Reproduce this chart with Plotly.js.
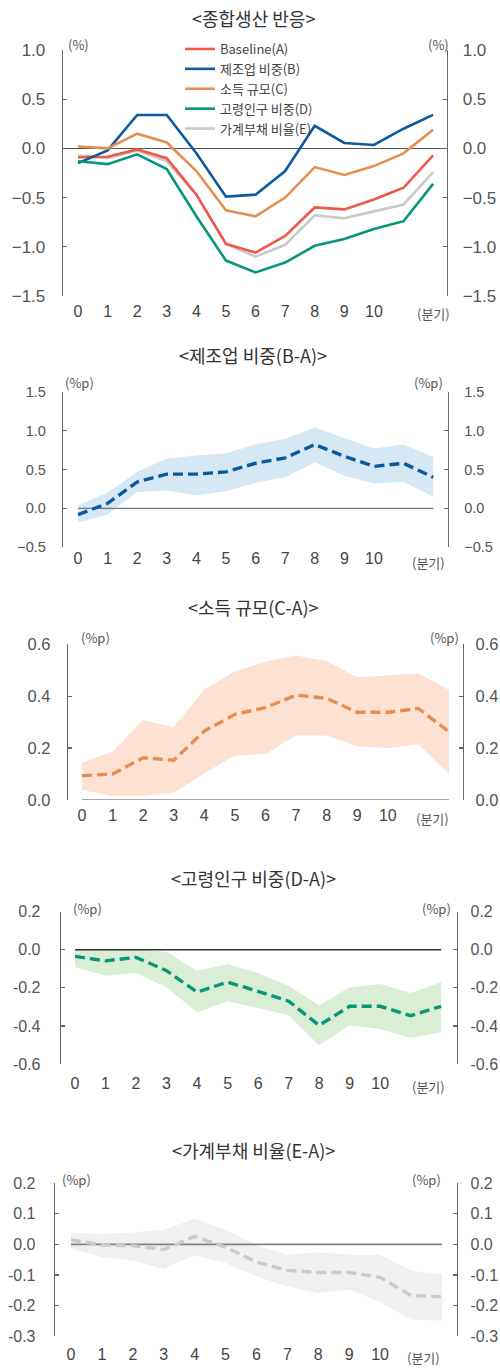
<!DOCTYPE html>
<html>
<head>
<meta charset="utf-8">
<script src="https://cdn.plot.ly/plotly-3.0.1.min.js"></script>
<style>html,body{margin:0;padding:0;background:#fff;}#chart{width:500px;height:1368px;}</style>
</head>
<body>
<div id="chart"></div>
<script>
// ---------- data ----------
const quarters = [0,1,2,3,4,5,6,7,8,9,10,11,12];
const xTickVals = [0,1,2,3,4,5,6,7,8,9,10];
const xTickText = ['0','1','2','3','4','5','6','7','8','9','10'];

// Panel 1: 종합생산 반응
const seriesNames = ['Baseline(A)','제조업 비중(B)','소득 규모(C)','고령인구 비중(D)','가계부채 비율(E)'];
const baselineA = [-0.09,-0.085,-0.01,-0.10,-0.47,-0.97,-1.06,-0.89,-0.60,-0.62,-0.52,-0.40,-0.07];
const manufB   = [-0.15,-0.02,0.34,0.34,-0.05,-0.49,-0.47,-0.23,0.23,0.055,0.035,0.20,0.34];
const incomeC  = [0.02,0.0,0.15,0.06,-0.23,-0.63,-0.69,-0.50,-0.19,-0.27,-0.18,-0.05,0.19];
const elderD   = [-0.13,-0.16,-0.06,-0.21,-0.69,-1.14,-1.26,-1.16,-0.99,-0.92,-0.82,-0.74,-0.36];
const debtE    = [-0.07,-0.10,-0.02,-0.13,-0.47,-0.97,-1.10,-0.98,-0.68,-0.71,-0.64,-0.57,-0.24];

// Panel 2: 제조업 비중(B-A)
const bMid   = [-0.08,0.065,0.34,0.44,0.44,0.47,0.58,0.65,0.82,0.67,0.54,0.58,0.40];
const bUpper = [0.04,0.20,0.47,0.64,0.68,0.71,0.82,0.90,1.04,0.90,0.77,0.82,0.66];
const bLower = [-0.18,-0.08,0.21,0.23,0.17,0.22,0.33,0.40,0.59,0.42,0.32,0.34,0.15];

// Panel 3: 소득 규모(C-A)
const cMid   = [0.094,0.10,0.163,0.153,0.266,0.33,0.356,0.404,0.392,0.338,0.338,0.353,0.263];
const cUpper = [0.144,0.186,0.308,0.28,0.427,0.495,0.533,0.557,0.536,0.473,0.48,0.488,0.424];
const cLower = [0.039,0.015,0.015,0.028,0.103,0.171,0.177,0.249,0.249,0.206,0.20,0.215,0.10];

// Panel 4: 고령인구 비중(D-A)
const dMid   = [-0.035,-0.058,-0.04,-0.11,-0.222,-0.17,-0.218,-0.27,-0.397,-0.297,-0.297,-0.346,-0.297];
const dUpper = [0.0,0.0,0.0,-0.01,-0.11,-0.075,-0.122,-0.189,-0.293,-0.197,-0.18,-0.227,-0.171];
const dLower = [-0.091,-0.136,-0.122,-0.197,-0.328,-0.27,-0.306,-0.344,-0.501,-0.397,-0.416,-0.463,-0.433];

// Panel 5: 가계부채 비율(E-A)
const eMid   = [0.015,-0.002,-0.004,-0.017,0.026,-0.009,-0.058,-0.085,-0.092,-0.092,-0.108,-0.167,-0.172];
const eUpper = [0.039,0.035,0.039,0.048,0.084,0.048,-0.003,-0.034,-0.026,-0.034,-0.034,-0.086,-0.097];
const eLower = [-0.014,-0.041,-0.053,-0.081,-0.036,-0.061,-0.105,-0.138,-0.159,-0.148,-0.189,-0.247,-0.249];

const panelTitles = ['<종합생산 반응>','<제조업 비중(B-A)>','<소득 규모(C-A)>','<고령인구 비중(D-A)>','<가계부채 비율(E-A)>'];
const unitLabels = ['(%)','(%p)','(%p)','(%p)','(%p)'];
const xUnitLabel = '(분기)';

const y1Ticks = [-1.5,-1,-0.5,0,0.5,1];   const y1Text = ['\u22121.5','\u22121.0','\u22120.5','0.0','0.5','1.0'];
const y2Ticks = [-0.5,0,0.5,1,1.5];       const y2Text = ['\u22120.5','0.0','0.5','1.0','1.5'];
const y3Ticks = [0,0.2,0.4,0.6];          const y3Text = ['0.0','0.2','0.4','0.6'];
const y4Ticks = [-0.6,-0.4,-0.2,0,0.2];   const y4Text = ['-0.6','-0.4','-0.2','0.0','0.2'];
const y5Ticks = [-0.3,-0.2,-0.1,0,0.1,0.2]; const y5Text = ['-0.3','-0.2','-0.1','0.0','0.1','0.2'];

// ---------- layout helpers ----------
const W = 500, H = 1368;
const KR = '"Noto Sans CJK KR", "Noto Sans", sans-serif';
const NUM = '"Liberation Sans", Arial, sans-serif';
const px = v => v / W;
const py = v => 1 - v / H;

// geometry per panel (pixels)
const geo = [
  {L:63, R:447, T:50,    B:296,  xr:[-0.507,12.47], yr:[-1.5,1.0], tv:y1Ticks, tt:y1Text, fs:17, xfs:16, titleY:18,  unitY:44,  uL:78,  uR:438, kx:12,   ky:314,  lsd:13, rsd:11},
  {L:63, R:448, T:391.7, B:547.3,xr:[-0.507,12.5],  yr:[-0.5,1.5], tv:y2Ticks, tt:y2Text, fs:14.5, xfs:16, titleY:355, unitY:383, uL:79,  uR:428, kx:11.85,ky:562,  lsd:13, rsd:12},
  {L:68, R:463, T:644.3, B:800,  xr:[-0.458,12.46], yr:[0,0.6],    tv:y3Ticks, tt:y3Text, fs:16.5, xfs:16, titleY:607, unitY:637, uL:95,  uR:444, kx:11.45,ky:818,  lsd:13, rsd:8},
  {L:61, R:457, T:911.7, B:1064, xr:[-0.46,12.52],  yr:[-0.6,0.2], tv:y4Ticks, tt:y4Text, fs:16, xfs:16, titleY:878, unitY:908, uL:87,  uR:436, kx:11.6, ky:1086, lsd:16, rsd:9},
  {L:55, R:457, T:1183.3,B:1336, xr:[-0.52,12.49],  yr:[-0.3,0.2], tv:y5Ticks, tt:y5Text, fs:16, xfs:16, titleY:1150,unitY:1179,uL:76,  uR:426, kx:11.4, ky:1357, lsd:15, rsd:9}
];

const layout = {
  width: W, height: H,
  margin: {l:0, r:0, t:0, b:0},
  paper_bgcolor: '#ffffff', plot_bgcolor: 'rgba(0,0,0,0)',
  showlegend: true,
  legend: {x: px(180), y: py(34), xanchor:'left', yanchor:'top', bgcolor:'rgba(0,0,0,0)',
           font:{family: KR, size:13, color:'#444'}, tracegroupgap:0, traceorder:'normal'},
  annotations: [],
  hovermode: false
};

geo.forEach((g, i) => {
  const n = i + 1;
  const xa = n === 1 ? 'xaxis' : 'xaxis' + n;
  const ya = n === 1 ? 'yaxis' : 'yaxis' + n;
  const yr = 'yaxis' + (n + 5);
  const xid = n === 1 ? 'x' : 'x' + n;
  const yid = n === 1 ? 'y' : 'y' + n;
  layout[xa] = {domain:[px(g.L), px(g.R)], range:g.xr, anchor:yid, showgrid:false, zeroline:false,
    showline:false, ticks:'', tickmode:'array', tickvals:xTickVals, ticktext:xTickText,
    tickfont:{family:NUM, size:g.xfs, color:'#444'}, ticklabelstandoff: (g.ky - g.B) - 14, fixedrange:true};
  const yCommon = {domain:[py(g.B), py(g.T)], range:g.yr, showgrid:false, showline:true,
    linecolor:'#666', linewidth:1.3, ticks:'inside', ticklen:4, tickcolor:'#666', tickwidth:1.3,
    tickmode:'array', tickvals:g.tv, ticktext:g.tt, tickfont:{family:NUM, size:g.fs, color:'#555'},
    fixedrange:true};
  layout[ya] = Object.assign({}, yCommon, {anchor:xid, side:'left', ticklabelstandoff:g.lsd,
    zeroline: n === 1, zerolinecolor:'#555', zerolinewidth:1.2});
  layout[yr] = Object.assign({}, yCommon, {anchor:xid, overlaying:yid, side:'right', ticklabelstandoff:g.rsd, zeroline:false});

  // title
  layout.annotations.push({xref:'paper', yref:'paper', x:px(253), y:py(g.titleY), xanchor:'center', yanchor:'middle',
    text:panelTitles[i], showarrow:false, font:{family:KR, size:18, color:'#333'}});
  // unit labels
  layout.annotations.push({xref:'paper', yref:'paper', x:px(g.uL), y:py(g.unitY), xanchor:'center', yanchor:'middle',
    text:unitLabels[i], showarrow:false, font:{family:KR, size:13, color:'#555'}});
  layout.annotations.push({xref:'paper', yref:'paper', x:px(g.uR), y:py(g.unitY), xanchor:'center', yanchor:'middle',
    text:unitLabels[i], showarrow:false, font:{family:KR, size:13, color:'#555'}});
  // x unit label
  layout.annotations.push({xref:xid, yref:'paper', x:g.kx, y:py(g.ky), xanchor:'center', yanchor:'middle',
    text:xUnitLabel, showarrow:false, font:{family:KR, size:13, color:'#555'}});
});

// ---------- traces ----------
const traces = [];
const line1 = (y, name, color, rank) => ({x:quarters, y:y, name:name, type:'scatter', mode:'lines',
  line:{color:color, width:2.6}, xaxis:'x', yaxis:'y', legendrank:rank});
traces.push(line1(debtE,   seriesNames[4], '#C9C9C9', 5));
traces.push(line1(baselineA, seriesNames[0], '#EE5849', 1));
traces.push(line1(manufB,  seriesNames[1], '#0D5AA0', 2));
traces.push(line1(incomeC, seriesNames[2], '#E48E4F', 3));
traces.push(line1(elderD,  seriesNames[3], '#07967A', 4));

function bandPanel(n, lower, upper, mid, fillColor, lineColor, zeroColor, zeroWidth) {
  const xid = 'x' + n, yid = 'y' + n;
  traces.push({x:quarters, y:lower, type:'scatter', mode:'lines', line:{width:0, color:fillColor},
    showlegend:false, xaxis:xid, yaxis:yid, hoverinfo:'skip'});
  traces.push({x:quarters, y:upper, type:'scatter', mode:'lines', line:{width:0, color:fillColor},
    fill:'tonexty', fillcolor:fillColor, showlegend:false, xaxis:xid, yaxis:yid, hoverinfo:'skip'});
  // zero reference line spanning the data quarters
  traces.push({x:[quarters[0], quarters[quarters.length-1]], y:[0,0], type:'scatter', mode:'lines',
    line:{color:zeroColor, width:zeroWidth}, showlegend:false, xaxis:xid, yaxis:yid, hoverinfo:'skip'});
  traces.push({x:quarters, y:mid, type:'scatter', mode:'lines', line:{color:lineColor, width:3.4, dash:'10px,5px'},
    showlegend:false, xaxis:xid, yaxis:yid});
}
bandPanel(2, bLower, bUpper, bMid, '#D7E8F5', '#0B5A9F', '#777777', 1.2);
bandPanel(3, cLower, cUpper, cMid, '#FDE1D3', '#E48E51', '#888888', 1.3);
bandPanel(4, dLower, dUpper, dMid, '#D9EED4', '#07967A', '#333333', 1.3);
bandPanel(5, eLower, eUpper, eMid, '#F0F0F0', '#CBCBCB', '#808080', 1.6);

// empty traces so the right-hand axes are attached
for (let n = 6; n <= 10; n++) {
  traces.push({x:[], y:[], type:'scatter', mode:'lines', showlegend:false,
    xaxis: n === 6 ? 'x' : 'x' + (n - 5), yaxis:'y' + n});
}

Plotly.newPlot('chart', traces, layout, {staticPlot:true, displayModeBar:false});
</script>
</body>
</html>
